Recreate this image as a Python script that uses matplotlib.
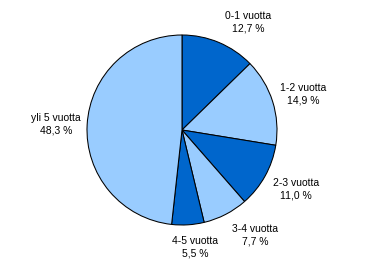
import matplotlib
matplotlib.use("Agg")
import matplotlib.pyplot as plt

categories = ["0-1 vuotta", "1-2 vuotta", "2-3 vuotta", "3-4 vuotta", "4-5 vuotta", "yli 5 vuotta"]
values = [12.7, 14.9, 11.0, 7.7, 5.5, 48.3]

dark = "#0066CC"
light = "#99CCFF"
colors = [dark, light, dark, light, dark, light]

# label text centre positions in pixel coordinates (x, y from top)
label_pos = [(248, 22), (303, 94), (296, 189), (255, 235), (195, 247), (56, 124)]

W, H = 366, 266
fig = plt.figure(figsize=(W / 100, H / 100), dpi=100)
ax = fig.add_axes([0, 0, 1, 1])
ax.set_xlim(0, W)
ax.set_ylim(0, H)
ax.axis("off")

ax.pie(values, colors=colors, startangle=90, counterclock=False,
       center=(182, H - 130), radius=95,
       wedgeprops=dict(edgecolor="black", linewidth=0.75))
ax.set_xlim(0, W)
ax.set_ylim(0, H)
ax.set_aspect("equal")

for cat, v, (px, py) in zip(categories, values, label_pos):
    txt = f"{cat}\n{v:.1f} %".replace(".", ",")
    ax.text(px, H - py, txt, ha="center", va="center", fontsize=7.5,
            family=["Liberation Sans", "DejaVu Sans"], linespacing=1.35)

fig.savefig("out.png", dpi=100)
